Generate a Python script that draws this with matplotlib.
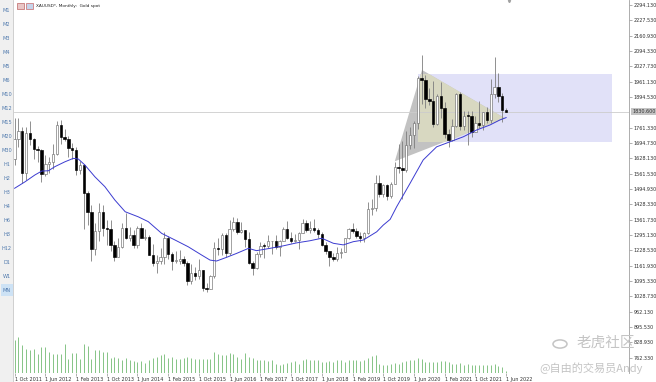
import matplotlib
matplotlib.use('Agg')
import matplotlib.pyplot as plt
from matplotlib.patches import Rectangle, Polygon, Circle
from matplotlib.transforms import blended_transform_factory


# XAUUSD monthly candles, Oct 2011 .. Jun 2022 (one entry per month)
opens = [1624, 1714, 1746,
         1565, 1740, 1710, 1668, 1664, 1560, 1604, 1614, 1648, 1773, 1719, 1713,
         1675, 1663, 1578, 1597, 1476, 1393, 1234, 1313, 1395, 1327, 1323, 1253,
         1201, 1244, 1326, 1284, 1296, 1250, 1327, 1282, 1287, 1210, 1172, 1183,
         1200, 1283, 1213, 1183, 1184, 1190, 1172, 1095, 1132, 1115, 1142, 1065,
         1061, 1118, 1238, 1233, 1293, 1215, 1322, 1351, 1309, 1316, 1277, 1173,
         1151, 1211, 1249, 1247, 1268, 1269, 1242, 1269, 1322, 1280, 1271, 1275,
         1303, 1345, 1318, 1325, 1316, 1299, 1253, 1224, 1201, 1192, 1215, 1222,
         1282, 1321, 1313, 1292, 1284, 1305, 1409, 1413, 1520, 1472, 1513, 1464,
         1517, 1589, 1585, 1577, 1687, 1730, 1781, 1975, 1967, 1886, 1879, 1776,
         1898, 1847, 1734, 1708, 1769, 1906, 1770, 1814, 1813, 1743, 1783, 1774,
         1829, 1796, 1909, 1937, 1897, 1837]
highs = [1804, 1803, 1764,
         1764, 1791, 1718, 1680, 1668, 1641, 1633, 1692, 1790, 1796, 1755, 1723,
         1694, 1679, 1617, 1605, 1488, 1424, 1348, 1434, 1424, 1361, 1361, 1267,
         1280, 1345, 1392, 1331, 1315, 1332, 1345, 1323, 1294, 1255, 1208, 1239,
         1307, 1290, 1219, 1224, 1232, 1205, 1181, 1170, 1157, 1191, 1143, 1088,
         1123, 1263, 1283, 1304, 1303, 1362, 1375, 1367, 1352, 1318, 1306, 1180,
         1220, 1264, 1261, 1296, 1270, 1296, 1272, 1331, 1357, 1306, 1299, 1307,
         1366, 1362, 1356, 1365, 1326, 1310, 1265, 1225, 1215, 1243, 1237, 1284,
         1326, 1347, 1324, 1310, 1306, 1439, 1453, 1555, 1557, 1517, 1516, 1524,
         1611, 1689, 1703, 1747, 1765, 1789, 1984, 2075, 1992, 1933, 1966, 1907,
         1959, 1871, 1755, 1798, 1913, 1916, 1834, 1832, 1834, 1814, 1877, 1831,
         1853, 1974, 2070, 1998, 1910, 1848]
lows = [1600, 1676, 1523,
        1535, 1688, 1627, 1613, 1527, 1552, 1564, 1582, 1643, 1692, 1705, 1636,
        1626, 1555, 1562, 1321, 1338, 1180, 1207, 1271, 1292, 1251, 1225, 1182,
        1198, 1238, 1277, 1268, 1240, 1240, 1281, 1272, 1206, 1161, 1132, 1170,
        1167, 1191, 1142, 1175, 1170, 1162, 1077, 1080, 1098, 1106, 1052, 1046,
        1060, 1107, 1208, 1207, 1200, 1208, 1311, 1301, 1302, 1241, 1171, 1123,
        1146, 1200, 1195, 1240, 1214, 1236, 1205, 1267, 1277, 1261, 1264, 1236,
        1302, 1307, 1303, 1310, 1282, 1246, 1211, 1160, 1180, 1183, 1196, 1221,
        1276, 1302, 1281, 1266, 1266, 1301, 1382, 1400, 1459, 1459, 1445, 1454,
        1516, 1563, 1451, 1568, 1670, 1671, 1757, 1863, 1848, 1860, 1765, 1775,
        1803, 1717, 1677, 1705, 1765, 1750, 1751, 1687, 1721, 1742, 1758, 1753,
        1780, 1780, 1890, 1872, 1787, 1828]
closes = [1714, 1746, 1565,
          1740, 1710, 1668, 1664, 1560, 1604, 1614, 1648, 1773, 1719, 1713, 1675,
          1663, 1578, 1597, 1476, 1393, 1234, 1313, 1395, 1327, 1323, 1253, 1201,
          1244, 1326, 1284, 1296, 1250, 1327, 1282, 1287, 1210, 1172, 1183, 1200,
          1283, 1213, 1183, 1184, 1190, 1172, 1095, 1132, 1115, 1142, 1065, 1061,
          1118, 1238, 1233, 1293, 1215, 1322, 1351, 1309, 1316, 1277, 1173, 1151,
          1211, 1249, 1247, 1268, 1269, 1242, 1269, 1322, 1280, 1271, 1275, 1303,
          1345, 1318, 1325, 1316, 1299, 1253, 1224, 1201, 1192, 1215, 1222, 1282,
          1321, 1313, 1292, 1284, 1305, 1409, 1413, 1520, 1472, 1513, 1464, 1517,
          1589, 1585, 1577, 1687, 1730, 1781, 1975, 1967, 1886, 1879, 1776, 1898,
          1847, 1734, 1708, 1769, 1906, 1770, 1814, 1813, 1743, 1783, 1774, 1829,
          1796, 1909, 1937, 1897, 1837, 1831]

# tick volume (relative units)
volumes = [100, 108, 83, 73, 70, 73, 56, 78, 78, 63, 56, 56, 56, 88, 43, 60, 60,
           43, 86, 81, 43, 70, 68, 63, 63, 45, 48, 45, 40, 45, 38, 36, 33, 36, 30,
           38, 45, 48, 53, 56, 46, 48, 41, 41, 46, 48, 46, 43, 43, 41, 43, 41, 63,
           58, 53, 53, 60, 56, 48, 43, 60, 48, 46, 38, 38, 38, 36, 38, 28, 25, 28,
           30, 33, 35, 28, 40, 43, 40, 40, 40, 33, 33,
           36, 33, 40, 40, 33, 38, 38, 38, 36, 40, 46, 50, 53, 28, 23, 23, 28, 31,
           28, 33, 35, 38, 40, 45, 43, 33, 33, 33, 33, 36, 35, 33, 28, 28, 30, 25,
           28, 25, 23, 25, 23, 25, 23, 28, 20, 18, 6]

# moving average line, read at sample months
ma_month = [0, 2.7, 5.3, 7.1, 8.8, 10.5, 13.1, 15.3, 16.6, 18.3, 20.9, 23.5,
            26.1, 28.8, 32.2, 34.8, 38.3, 41.8, 45.2, 48.7, 50.9, 52.6, 55.2,
            57.8, 60.9, 63.0, 66.5, 70.0, 73.5, 76.9, 80.0, 83.0, 85.6, 88.2,
            90.8, 94.3, 96.0, 97.8, 99.5, 103.0, 106.4, 109.9, 113.4, 116.9,
            120.3, 123.8, 126.4, 128]
ma_value = [1498, 1526, 1556, 1573, 1574, 1592, 1613, 1628, 1625, 1599, 1548,
            1505, 1447, 1396, 1374, 1353, 1302, 1273, 1244, 1208, 1186, 1182,
            1198, 1215, 1237, 1227, 1237, 1248, 1261, 1270, 1281, 1259, 1252,
            1266, 1273, 1309, 1338, 1363, 1418, 1520, 1621, 1678, 1700, 1722,
            1751, 1773, 1795, 1805]

date_ticks = [0, 8, 16, 24, 32, 40, 48, 56, 64, 72, 80, 88, 96, 104, 112, 120, 128]
date_labels = ['1 Oct 2011', '1 Jun 2012', '1 Feb 2013', '1 Oct 2013', '1 Jun 2014',
               '1 Feb 2015', '1 Oct 2015', '1 Jun 2016', '1 Feb 2017', '1 Oct 2017',
               '1 Jun 2018', '1 Feb 2019', '1 Oct 2019', '1 Jun 2020', '1 Feb 2021',
               '1 Oct 2021', '1 Jun 2022']
price_ticks = [2294.13, 2227.53, 2160.93, 2094.33, 2027.73, 1961.13, 1894.53,
               1761.33, 1694.73, 1628.13, 1561.53, 1494.93, 1428.33, 1361.73,
               1295.13, 1228.53, 1161.93, 1095.33, 1028.73, 962.13, 895.53,
               828.93, 762.33]
last_price = 1830.6

timeframes = ['M1', 'M2', 'M3', 'M4', 'M5', 'M6', 'M10', 'M12', 'M15', 'M20', 'M30',
              'H1', 'H2', 'H3', 'H4', 'H6', 'H8', 'H12', 'D1', 'W1', 'MN']

# drawn objects: rectangle (months, prices) and triangle
box_months = (105.0, 155.5)
box_prices = (1697.7, 1994.4)
tri_points = [(99.0, 1615), (106.1, 2012), (127.7, 1802)]


W, H = 656, 382


def px_box(x0, y0, x1, y1):
    return [x0 / W, 1 - y1 / H, (x1 - x0) / W, (y1 - y0) / H]


fig = plt.figure(figsize=(W / 100, H / 100), dpi=100)
fig.patch.set_facecolor('white')

# left timeframe bar
side = fig.add_axes(px_box(0, 0, 13, H))
side.set_facecolor('#f0f0f0')
side.set_xlim(0, 13)
side.set_ylim(H, 0)
side.set_xticks([])
side.set_yticks([])
for s in ['top', 'left', 'bottom']:
    side.spines[s].set_visible(False)
side.spines['right'].set_color('#c8c8c8')
side.spines['right'].set_linewidth(0.6)
for i, tf in enumerate(timeframes):
    y = 11 + i * 13.96
    if tf == 'MN':
        side.add_patch(Rectangle((0.5, y - 6), 12, 12, facecolor='#cde2f5',
                                 edgecolor='none'))
    side.text(6.5, y, tf, fontsize=3.6, color='#4f79ad', ha='center', va='center')

# main chart
ax = fig.add_axes(px_box(14, 0, 629, 373))
ax.set_xlim(-0.16, 160)
ax.set_ylim(695.5, 2315.9)
for s in ['top', 'left', 'bottom']:
    ax.spines[s].set_visible(False)
ax.spines['right'].set_color('#a0a0a0')
ax.spines['right'].set_linewidth(0.6)

# volume strip on its own scale
axv = fig.add_axes(px_box(14, 0, 629, 373), sharex=ax)
axv.set_ylim(0, 373 * 3)
axv.axis('off')
axv.vlines(range(len(volumes)), 0, volumes, colors='#86c486', lw=0.7)

# objects behind the candles
rect = Rectangle((box_months[0], box_prices[0]), box_months[1] - box_months[0],
                 box_prices[1] - box_prices[0], facecolor='#e1e1f8',
                 edgecolor='none', zorder=1)
ax.add_patch(rect)
ax.add_patch(Polygon(tri_points, closed=True, facecolor='#c2c2c2',
                     edgecolor='none', zorder=1.5))
overlap = Polygon(tri_points, closed=True, facecolor='#d8d8c1',
                  edgecolor='none', zorder=1.6)
ax.add_patch(overlap)
overlap.set_clip_path(rect)

ax.axhline(last_price, color='#cccccc', lw=0.6, zorder=2)

# candles
idx = list(range(len(closes)))
ax.vlines(idx, lows, highs, colors='#7d7d7d', lw=0.6, zorder=3)
for i in idx:
    o, c = opens[i], closes[i]
    bottom = min(o, c)
    height = max(abs(c - o), 3)
    if c >= o:
        ax.bar(i, height, bottom=bottom, width=0.62, color='white',
               edgecolor='#6e6e6e', lw=0.45, zorder=4)
    else:
        ax.bar(i, height, bottom=bottom, width=0.62, color='black',
               edgecolor='black', lw=0.45, zorder=4)

ax.plot(ma_month, ma_value, color='#3b3bd0', lw=0.7, zorder=5)

# axes labels
ax.yaxis.tick_right()
ax.set_yticks(price_ticks)
ax.set_yticklabels(['%.3f' % p for p in price_ticks])
ax.tick_params(axis='y', labelsize=3.5, length=2, width=0.5, pad=1.5,
               color='#909090', labelcolor='#303030')
ax.set_xticks(date_ticks)
ax.set_xticklabels(date_labels)
ax.tick_params(axis='x', labelsize=3.5, length=2, width=0.5, pad=1,
               color='#909090', labelcolor='#303030')
for lab in ax.get_xticklabels():
    lab.set_ha('left')

tr = blended_transform_factory(ax.transAxes, ax.transData)
ax.text(1.006, last_price, '%.3f' % last_price, transform=tr, fontsize=3.5,
        va='center', ha='left', color='#303030',
        bbox=dict(boxstyle='square,pad=0.25', facecolor='#c4c4c4', edgecolor='none'))
ax.plot([128.8], [0.996], transform=blended_transform_factory(ax.transData, ax.transAxes),
        marker='v', ms=1.6, color='#a0a0a0', clip_on=False)

# title and icons
fig.patches.append(Rectangle((17 / W, 1 - 9 / H), 7 / W, 6 / H, transform=fig.transFigure,
                             facecolor='#e9c6c6', edgecolor='#b04545', lw=0.4))
fig.patches.append(Rectangle((26 / W, 1 - 9 / H), 7 / W, 6 / H, transform=fig.transFigure,
                             facecolor='#c6d4ea', edgecolor='#c04848', lw=0.4))
fig.text(36 / W, 1 - 6 / H, 'XAUUSD*, Monthly:  Gold spot', fontsize=3.1,
         color='#202020', va='center', ha='left')

# watermark
cjk = ['Noto Sans CJK SC', 'DejaVu Sans']
fig.patches.append(Circle((560 / W, 1 - 344 / H), 7 / W, transform=fig.transFigure,
                          facecolor='none', edgecolor='#c4c4c4', lw=1.1))
fig.text(606 / W, 1 - 343 / H, '老虎社区', fontsize=10.5, color='#c4c4c4',
         ha='center', va='center', family=cjk)
fig.text(591 / W, 1 - 368 / H, '@自由的交易员Andy', fontsize=8, color='#c4c4c4',
         ha='center', va='center', family=cjk)

fig.savefig('out.png', dpi=100)
